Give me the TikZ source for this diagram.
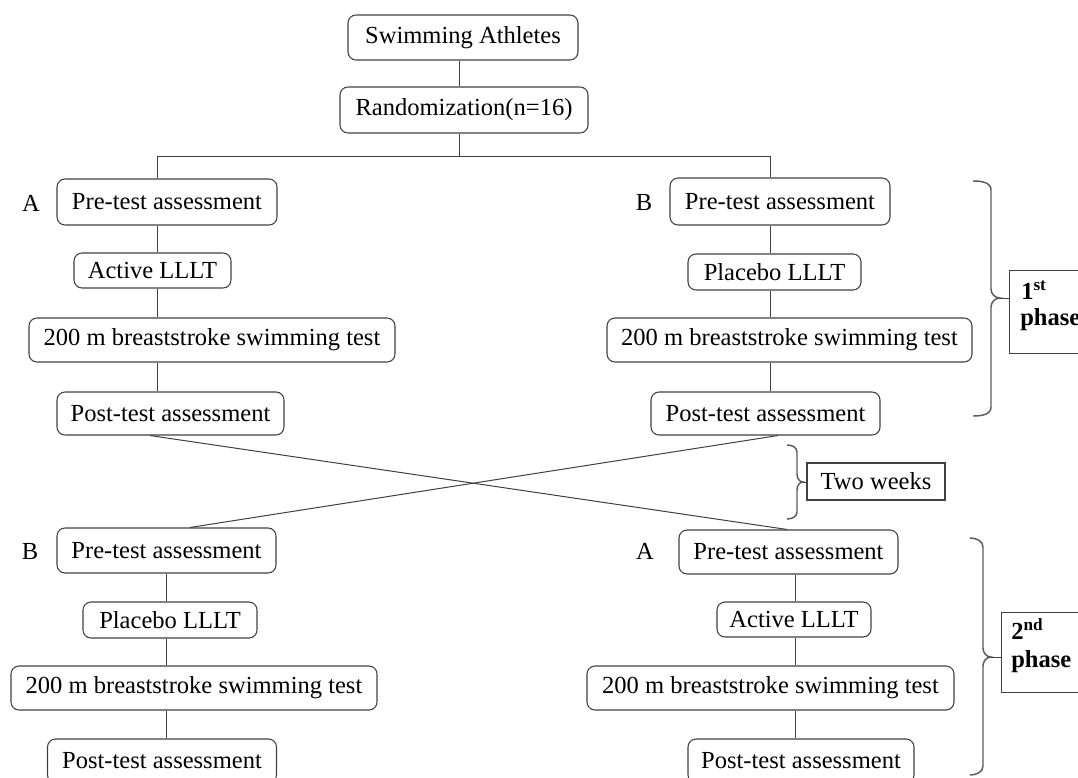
\documentclass[tikz,border=0pt]{standalone}
\usepackage{fontspec}
\setmainfont{Liberation Serif}
\definecolor{linec}{HTML}{404040}
\definecolor{bracec}{HTML}{5A5A5A}
\begin{document}
\begin{tikzpicture}[x=0.75pt,y=-0.75pt,
  every node/.style={font=\fontsize{18.4pt}{22pt}\selectfont, text=black},
  rbox/.style 2 args={draw=linec, line width=0.8pt, rounded corners=6pt,
    minimum width=#1*0.75pt, minimum height=#2*0.75pt, inner sep=0pt},
  sbox/.style 2 args={draw=linec, line width=0.8pt,
    minimum width=#1*0.75pt, minimum height=#2*0.75pt, inner sep=0pt},
  conn/.style={draw=linec, line width=0.75pt},
  brc/.style={draw=bracec, line width=1.1pt},
  lbl/.style={inner sep=0pt},
  phtxt/.style={inner sep=0pt, anchor=base west,
    font=\fontsize{18.4pt}{22pt}\selectfont\bfseries},
]
\useasboundingbox (0,0) rectangle (1078,778);
\clip (0,0) rectangle (1078,778);

% column coordinates
\coordinate (xT) at (459,0);
\coordinate (xL) at (157,0);
\coordinate (xR) at (770,0);
\coordinate (xL2) at (166,0);
\coordinate (xR2) at (795,0);
\coordinate (hy) at (0,156);
\coordinate (c1) at (150,0);
\coordinate (c2) at (787,0);
\coordinate (c3) at (778,0);
\coordinate (c4) at (190,0);

% top
\node[rbox={230}{45}] (sa) at (463,37.5) {Swimming Athletes};
\node[rbox={248}{46}] (rnd) at (464,110) {Randomization(n=16)};

% first phase, group A (left)
\node[rbox={220}{46}] (preA) at (167,202) {Pre-test assessment};
\node[rbox={157}{35}] (actA) at (152.5,270.5) {Active LLLT};
\node[rbox={366}{44}] (swA) at (212,340) {200 m breaststroke swimming test};
\node[rbox={227}{43}] (postA) at (170.5,413.5) {Post-test assessment};
\node[lbl] (lA1) at (31,203) {A};

% first phase, group B (right)
\node[rbox={220}{47}] (preB) at (780,201.5) {Pre-test assessment};
\node[rbox={173}{36}] (plaB) at (774.5,272) {Placebo LLLT};
\node[rbox={365}{44}] (swB) at (789.5,340) {200 m breaststroke swimming test};
\node[rbox={229}{43}] (postB) at (765.5,413.5) {Post-test assessment};
\node[lbl] (lB1) at (644,203) {B};

% second phase, group B (left)
\node[rbox={219}{45}] (preB2) at (166.5,550.5) {Pre-test assessment};
\node[rbox={174}{36}] (plaB2) at (170,620) {Placebo LLLT};
\node[rbox={366}{44}] (swB2) at (194,688) {200 m breaststroke swimming test};
\node[rbox={229}{44}] (postB2) at (162,761) {Post-test assessment};
\node[lbl] (lB2) at (30,551) {B};

% second phase, group A (right)
\node[rbox={219}{44}] (preA2) at (788.5,552) {Pre-test assessment};
\node[rbox={154}{35}] (actA2) at (794,619.5) {Active LLLT};
\node[rbox={367}{44}] (swA2) at (770.5,688) {200 m breaststroke swimming test};
\node[rbox={226}{44}] (postA2) at (801,761) {Post-test assessment};
\node[lbl] (lA2) at (645,551) {A};

% connectors
\draw[conn] (sa.south -| xT) -- (rnd.north -| xT);
\draw[conn] (rnd.south -| xT) -- (hy -| xT);
\draw[conn] (preA.north -| xL) -- (hy -| xL) -- (hy -| xR) -- (preB.north -| xR);
\draw[conn] (preA.south -| xL) -- (actA.north -| xL);
\draw[conn] (actA.south -| xL) -- (swA.north -| xL);
\draw[conn] (swA.south -| xL) -- (postA.north -| xL);
\draw[conn] (preB.south -| xR) -- (plaB.north -| xR);
\draw[conn] (plaB.south -| xR) -- (swB.north -| xR);
\draw[conn] (swB.south -| xR) -- (postB.north -| xR);
\draw[conn] (postA.south -| c1) -- (preA2.north -| c2);
\draw[conn] (postB.south -| c3) -- (preB2.north -| c4);
\draw[conn] (preB2.south -| xL2) -- (plaB2.north -| xL2);
\draw[conn] (plaB2.south -| xL2) -- (swB2.north -| xL2);
\draw[conn] (swB2.south -| xL2) -- (postB2.north -| xL2);
\draw[conn] (preA2.south -| xR2) -- (actA2.north -| xR2);
\draw[conn] (actA2.south -| xR2) -- (swA2.north -| xR2);
\draw[conn] (swA2.south -| xR2) -- (postA2.north -| xR2);

% phase boxes
\node[sbox={140}{83}, anchor=north west] (ph1) at (1009,270) {};
\node[phtxt] (ph1a) at (1021,299) {1\textsuperscript{st}};
\node[phtxt] (ph1b) at (1020,325) {phase};
\node[sbox={138}{37}] (tw) at (876,481.5) {Two weeks};
\node[sbox={140}{80}, anchor=north west] (ph2) at (1001,612) {};
\node[phtxt] (ph2a) at (1011,639) {2\textsuperscript{nd}};
\node[phtxt] (ph2b) at (1011,667) {phase};

% braces
\coordinate (t1) at (1000,298);
\draw[brc] (973,181) to[out=0,in=90] (991,190) -- (991,289)
  to[out=-90,in=180] (t1) to[out=180,in=90] (991,307) -- (991,407)
  to[out=-90,in=0] (973,416);
\draw[conn] (t1) -- (ph1.west |- t1);

\coordinate (t2) at (803,482);
\draw[brc] (787,445) to[out=0,in=90] (797,452) -- (797,474)
  to[out=-90,in=180] (t2) to[out=180,in=90] (797,490) -- (797,512)
  to[out=-90,in=0] (787,519);
\draw[conn] (t2) -- (tw.west |- t2);

\coordinate (t3) at (991,657);
\draw[brc] (970,538) to[out=0,in=90] (983,547) -- (983,648)
  to[out=-90,in=180] (t3) to[out=180,in=90] (983,666) -- (983,766)
  to[out=-90,in=0] (970,775);
\draw[conn] (t3) -- (ph2.west |- t3);
\end{tikzpicture}
\end{document}
